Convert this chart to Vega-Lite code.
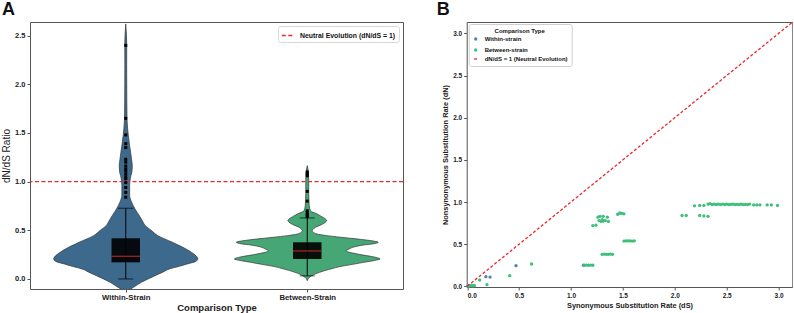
{
  "$schema": "https://vega.github.io/schema/vega-lite/v6.json",
  "padding": {"left": 1, "top": 0, "right": 0, "bottom": 0},
  "spacing": 30.7,
  "datasets": {
    "violin": [
      {"g": "Within-Strain", "y": 2.62, "lo": 0, "hi": 0},
      {"g": "Within-Strain", "y": 2.5, "lo": -0.004, "hi": 0.004},
      {"g": "Within-Strain", "y": 2.4, "lo": -0.0054, "hi": 0.0054},
      {"g": "Within-Strain", "y": 2.2, "lo": -0.005, "hi": 0.005},
      {"g": "Within-Strain", "y": 2.0, "lo": -0.0054, "hi": 0.0054},
      {"g": "Within-Strain", "y": 1.8, "lo": -0.006, "hi": 0.006},
      {"g": "Within-Strain", "y": 1.64, "lo": -0.007, "hi": 0.007},
      {"g": "Within-Strain", "y": 1.55, "lo": -0.01, "hi": 0.01},
      {"g": "Within-Strain", "y": 1.47, "lo": -0.0145, "hi": 0.0145},
      {"g": "Within-Strain", "y": 1.37, "lo": -0.0214, "hi": 0.0214},
      {"g": "Within-Strain", "y": 1.3, "lo": -0.027, "hi": 0.027},
      {"g": "Within-Strain", "y": 1.23, "lo": -0.032, "hi": 0.032},
      {"g": "Within-Strain", "y": 1.16, "lo": -0.036, "hi": 0.036},
      {"g": "Within-Strain", "y": 1.1, "lo": -0.034, "hi": 0.034},
      {"g": "Within-Strain", "y": 1.06, "lo": -0.028, "hi": 0.028},
      {"g": "Within-Strain", "y": 1.0, "lo": -0.023, "hi": 0.023},
      {"g": "Within-Strain", "y": 0.96, "lo": -0.0214, "hi": 0.0214},
      {"g": "Within-Strain", "y": 0.9, "lo": -0.0214, "hi": 0.0214},
      {"g": "Within-Strain", "y": 0.86, "lo": -0.0214, "hi": 0.0214},
      {"g": "Within-Strain", "y": 0.79, "lo": -0.032, "hi": 0.032},
      {"g": "Within-Strain", "y": 0.72, "lo": -0.051, "hi": 0.051},
      {"g": "Within-Strain", "y": 0.65, "lo": -0.075, "hi": 0.075},
      {"g": "Within-Strain", "y": 0.6, "lo": -0.091, "hi": 0.091},
      {"g": "Within-Strain", "y": 0.55, "lo": -0.107, "hi": 0.107},
      {"g": "Within-Strain", "y": 0.5, "lo": -0.14, "hi": 0.14},
      {"g": "Within-Strain", "y": 0.445, "lo": -0.177, "hi": 0.177},
      {"g": "Within-Strain", "y": 0.377, "lo": -0.257, "hi": 0.257},
      {"g": "Within-Strain", "y": 0.308, "lo": -0.332, "hi": 0.332},
      {"g": "Within-Strain", "y": 0.27, "lo": -0.365, "hi": 0.365},
      {"g": "Within-Strain", "y": 0.24, "lo": -0.386, "hi": 0.386},
      {"g": "Within-Strain", "y": 0.205, "lo": -0.397, "hi": 0.397},
      {"g": "Within-Strain", "y": 0.18, "lo": -0.385, "hi": 0.385},
      {"g": "Within-Strain", "y": 0.154, "lo": -0.338, "hi": 0.338},
      {"g": "Within-Strain", "y": 0.13, "lo": -0.295, "hi": 0.295},
      {"g": "Within-Strain", "y": 0.103, "lo": -0.241, "hi": 0.241},
      {"g": "Within-Strain", "y": 0.07, "lo": -0.204, "hi": 0.204},
      {"g": "Within-Strain", "y": 0.034, "lo": -0.161, "hi": 0.161},
      {"g": "Within-Strain", "y": 0.0, "lo": -0.123, "hi": 0.123},
      {"g": "Within-Strain", "y": -0.034, "lo": -0.086, "hi": 0.086},
      {"g": "Within-Strain", "y": -0.085, "lo": -0.043, "hi": 0.043},
      {"g": "Within-Strain", "y": -0.13, "lo": 0, "hi": 0},
      {"g": "Between-Strain", "y": 1.164, "lo": 1, "hi": 1},
      {"g": "Between-Strain", "y": 1.1, "lo": 0.994, "hi": 1.006},
      {"g": "Between-Strain", "y": 1.027, "lo": 0.992, "hi": 1.008},
      {"g": "Between-Strain", "y": 0.95, "lo": 0.992, "hi": 1.008},
      {"g": "Between-Strain", "y": 0.89, "lo": 0.992, "hi": 1.008},
      {"g": "Between-Strain", "y": 0.82, "lo": 0.991, "hi": 1.009},
      {"g": "Between-Strain", "y": 0.753, "lo": 0.989, "hi": 1.011},
      {"g": "Between-Strain", "y": 0.7, "lo": 0.982, "hi": 1.018},
      {"g": "Between-Strain", "y": 0.668, "lo": 0.946, "hi": 1.054},
      {"g": "Between-Strain", "y": 0.64, "lo": 0.92, "hi": 1.08},
      {"g": "Between-Strain", "y": 0.617, "lo": 0.9, "hi": 1.1},
      {"g": "Between-Strain", "y": 0.6, "lo": 0.893, "hi": 1.107},
      {"g": "Between-Strain", "y": 0.583, "lo": 0.9, "hi": 1.1},
      {"g": "Between-Strain", "y": 0.555, "lo": 0.925, "hi": 1.075},
      {"g": "Between-Strain", "y": 0.531, "lo": 0.955, "hi": 1.045},
      {"g": "Between-Strain", "y": 0.51, "lo": 0.968, "hi": 1.032},
      {"g": "Between-Strain", "y": 0.496, "lo": 0.973, "hi": 1.027},
      {"g": "Between-Strain", "y": 0.478, "lo": 0.965, "hi": 1.035},
      {"g": "Between-Strain", "y": 0.462, "lo": 0.946, "hi": 1.054},
      {"g": "Between-Strain", "y": 0.445, "lo": 0.89, "hi": 1.11},
      {"g": "Between-Strain", "y": 0.428, "lo": 0.812, "hi": 1.188},
      {"g": "Between-Strain", "y": 0.41, "lo": 0.72, "hi": 1.28},
      {"g": "Between-Strain", "y": 0.394, "lo": 0.651, "hi": 1.349},
      {"g": "Between-Strain", "y": 0.377, "lo": 0.609, "hi": 1.391},
      {"g": "Between-Strain", "y": 0.36, "lo": 0.64, "hi": 1.36},
      {"g": "Between-Strain", "y": 0.349, "lo": 0.689, "hi": 1.311},
      {"g": "Between-Strain", "y": 0.33, "lo": 0.74, "hi": 1.26},
      {"g": "Between-Strain", "y": 0.308, "lo": 0.769, "hi": 1.231},
      {"g": "Between-Strain", "y": 0.29, "lo": 0.786, "hi": 1.214},
      {"g": "Between-Strain", "y": 0.275, "lo": 0.77, "hi": 1.23},
      {"g": "Between-Strain", "y": 0.264, "lo": 0.743, "hi": 1.257},
      {"g": "Between-Strain", "y": 0.248, "lo": 0.7, "hi": 1.3},
      {"g": "Between-Strain", "y": 0.233, "lo": 0.651, "hi": 1.349},
      {"g": "Between-Strain", "y": 0.218, "lo": 0.615, "hi": 1.385},
      {"g": "Between-Strain", "y": 0.205, "lo": 0.598, "hi": 1.402},
      {"g": "Between-Strain", "y": 0.19, "lo": 0.63, "hi": 1.37},
      {"g": "Between-Strain", "y": 0.171, "lo": 0.689, "hi": 1.311},
      {"g": "Between-Strain", "y": 0.15, "lo": 0.75, "hi": 1.25},
      {"g": "Between-Strain", "y": 0.13, "lo": 0.812, "hi": 1.188},
      {"g": "Between-Strain", "y": 0.108, "lo": 0.86, "hi": 1.14},
      {"g": "Between-Strain", "y": 0.086, "lo": 0.903, "hi": 1.097},
      {"g": "Between-Strain", "y": 0.068, "lo": 0.932, "hi": 1.068},
      {"g": "Between-Strain", "y": 0.051, "lo": 0.957, "hi": 1.043},
      {"g": "Between-Strain", "y": 0.034, "lo": 0.975, "hi": 1.025},
      {"g": "Between-Strain", "y": 0.017, "lo": 0.988, "hi": 1.012},
      {"g": "Between-Strain", "y": -0.017, "lo": 1, "hi": 1}
    ],
    "boxes": [
      {"g": "Within-Strain", "pos": 0, "q1": 0.171, "q3": 0.418, "med": 0.233, "wlo": 0.0, "whi": 0.727},
      {"g": "Between-Strain", "pos": 1, "q1": 0.205, "q3": 0.377, "med": 0.288, "wlo": 0.032, "whi": 0.627}
    ],
    "outliers": [
      {"g": "Within-Strain", "pos": 0, "v": 2.4},
      {"g": "Within-Strain", "pos": 0, "v": 1.65},
      {"g": "Within-Strain", "pos": 0, "v": 1.48},
      {"g": "Within-Strain", "pos": 0, "v": 1.39},
      {"g": "Within-Strain", "pos": 0, "v": 1.35},
      {"g": "Within-Strain", "pos": 0, "v": 1.23},
      {"g": "Within-Strain", "pos": 0, "v": 1.2},
      {"g": "Within-Strain", "pos": 0, "v": 1.16},
      {"g": "Within-Strain", "pos": 0, "v": 1.13},
      {"g": "Within-Strain", "pos": 0, "v": 1.11},
      {"g": "Within-Strain", "pos": 0, "v": 1.08},
      {"g": "Within-Strain", "pos": 0, "v": 1.05},
      {"g": "Within-Strain", "pos": 0, "v": 1.03},
      {"g": "Within-Strain", "pos": 0, "v": 0.99},
      {"g": "Within-Strain", "pos": 0, "v": 0.94},
      {"g": "Within-Strain", "pos": 0, "v": 0.89},
      {"g": "Within-Strain", "pos": 0, "v": 0.84},
      {"g": "Between-Strain", "pos": 1, "v": 1.1},
      {"g": "Between-Strain", "pos": 1, "v": 1.08},
      {"g": "Between-Strain", "pos": 1, "v": 1.06},
      {"g": "Between-Strain", "pos": 1, "v": 0.9},
      {"g": "Between-Strain", "pos": 1, "v": 0.8},
      {"g": "Between-Strain", "pos": 1, "v": 0.7},
      {"g": "Between-Strain", "pos": 1, "v": 0.68},
      {"g": "Between-Strain", "pos": 1, "v": 0.66},
      {"g": "Between-Strain", "pos": 1, "v": 0.65},
      {"g": "Between-Strain", "pos": 1, "v": 0.64}
    ],
    "scatter": [
      {"t": "Within-strain", "ds": 0.005, "dn": 0.003},
      {"t": "Within-strain", "ds": 0.012, "dn": 0.005},
      {"t": "Within-strain", "ds": 0.02, "dn": 0.01},
      {"t": "Within-strain", "ds": 0.18, "dn": 0.114},
      {"t": "Within-strain", "ds": 0.22, "dn": 0.11},
      {"t": "Within-strain", "ds": 0.47, "dn": 0.245},
      {"t": "Within-strain", "ds": 1.12, "dn": 0.25},
      {"t": "Between-strain", "ds": 0.02, "dn": 0.005},
      {"t": "Between-strain", "ds": 0.04, "dn": 0.008},
      {"t": "Between-strain", "ds": 0.05, "dn": 0.006},
      {"t": "Between-strain", "ds": 0.06, "dn": 0.01},
      {"t": "Between-strain", "ds": 0.07, "dn": 0.008},
      {"t": "Between-strain", "ds": 0.12, "dn": 0.075},
      {"t": "Between-strain", "ds": 0.19, "dn": 0.02},
      {"t": "Between-strain", "ds": 0.41, "dn": 0.126},
      {"t": "Between-strain", "ds": 0.62, "dn": 0.265},
      {"t": "Between-strain", "ds": 1.13, "dn": 0.25},
      {"t": "Between-strain", "ds": 1.15, "dn": 0.252},
      {"t": "Between-strain", "ds": 1.17, "dn": 0.25},
      {"t": "Between-strain", "ds": 1.19, "dn": 0.252},
      {"t": "Between-strain", "ds": 1.21, "dn": 0.25},
      {"t": "Between-strain", "ds": 1.3, "dn": 0.38},
      {"t": "Between-strain", "ds": 1.32, "dn": 0.382},
      {"t": "Between-strain", "ds": 1.34, "dn": 0.38},
      {"t": "Between-strain", "ds": 1.36, "dn": 0.38},
      {"t": "Between-strain", "ds": 1.38, "dn": 0.382},
      {"t": "Between-strain", "ds": 1.4, "dn": 0.38},
      {"t": "Between-strain", "ds": 1.51, "dn": 0.537},
      {"t": "Between-strain", "ds": 1.53, "dn": 0.54},
      {"t": "Between-strain", "ds": 1.55, "dn": 0.538},
      {"t": "Between-strain", "ds": 1.57, "dn": 0.54},
      {"t": "Between-strain", "ds": 1.59, "dn": 0.537},
      {"t": "Between-strain", "ds": 1.61, "dn": 0.54},
      {"t": "Between-strain", "ds": 1.21, "dn": 0.72},
      {"t": "Between-strain", "ds": 1.24, "dn": 0.725},
      {"t": "Between-strain", "ds": 1.26, "dn": 0.82},
      {"t": "Between-strain", "ds": 1.28, "dn": 0.83},
      {"t": "Between-strain", "ds": 1.31, "dn": 0.83},
      {"t": "Between-strain", "ds": 1.35, "dn": 0.82},
      {"t": "Between-strain", "ds": 1.27, "dn": 0.78},
      {"t": "Between-strain", "ds": 1.29, "dn": 0.77},
      {"t": "Between-strain", "ds": 1.31, "dn": 0.775},
      {"t": "Between-strain", "ds": 1.33, "dn": 0.78},
      {"t": "Between-strain", "ds": 1.36, "dn": 0.77},
      {"t": "Between-strain", "ds": 1.3, "dn": 0.79},
      {"t": "Between-strain", "ds": 1.45, "dn": 0.855},
      {"t": "Between-strain", "ds": 1.47, "dn": 0.87},
      {"t": "Between-strain", "ds": 1.49, "dn": 0.865},
      {"t": "Between-strain", "ds": 1.51, "dn": 0.86},
      {"t": "Between-strain", "ds": 2.07, "dn": 0.84},
      {"t": "Between-strain", "ds": 2.11, "dn": 0.84},
      {"t": "Between-strain", "ds": 2.24, "dn": 0.84},
      {"t": "Between-strain", "ds": 2.28, "dn": 0.835},
      {"t": "Between-strain", "ds": 2.32, "dn": 0.83},
      {"t": "Between-strain", "ds": 2.19, "dn": 0.955},
      {"t": "Between-strain", "ds": 2.24, "dn": 0.96},
      {"t": "Between-strain", "ds": 2.28, "dn": 0.96},
      {"t": "Between-strain", "ds": 2.32, "dn": 0.975},
      {"t": "Between-strain", "ds": 2.34, "dn": 0.98},
      {"t": "Between-strain", "ds": 2.36, "dn": 0.97},
      {"t": "Between-strain", "ds": 2.38, "dn": 0.975},
      {"t": "Between-strain", "ds": 2.4, "dn": 0.97},
      {"t": "Between-strain", "ds": 2.42, "dn": 0.975},
      {"t": "Between-strain", "ds": 2.44, "dn": 0.97},
      {"t": "Between-strain", "ds": 2.46, "dn": 0.975},
      {"t": "Between-strain", "ds": 2.48, "dn": 0.97},
      {"t": "Between-strain", "ds": 2.5, "dn": 0.975},
      {"t": "Between-strain", "ds": 2.52, "dn": 0.97},
      {"t": "Between-strain", "ds": 2.54, "dn": 0.972},
      {"t": "Between-strain", "ds": 2.56, "dn": 0.975},
      {"t": "Between-strain", "ds": 2.58, "dn": 0.97},
      {"t": "Between-strain", "ds": 2.6, "dn": 0.972},
      {"t": "Between-strain", "ds": 2.62, "dn": 0.97},
      {"t": "Between-strain", "ds": 2.64, "dn": 0.975},
      {"t": "Between-strain", "ds": 2.66, "dn": 0.97},
      {"t": "Between-strain", "ds": 2.68, "dn": 0.972},
      {"t": "Between-strain", "ds": 2.7, "dn": 0.97},
      {"t": "Between-strain", "ds": 2.72, "dn": 0.975},
      {"t": "Between-strain", "ds": 2.76, "dn": 0.965},
      {"t": "Between-strain", "ds": 2.79, "dn": 0.965},
      {"t": "Between-strain", "ds": 2.82, "dn": 0.965},
      {"t": "Between-strain", "ds": 2.89, "dn": 0.965},
      {"t": "Between-strain", "ds": 2.93, "dn": 0.965},
      {"t": "Between-strain", "ds": 2.99, "dn": 0.96}
    ]
  },
  "hconcat": [
    {
      "width": 373,
      "height": 267,
      "title": {"text": "A", "anchor": "start", "frame": "group", "dx": -28, "offset": -11, "baseline": "alphabetic", "fontSize": 18, "fontWeight": "bold", "font": "Liberation Sans", "color": "#111"},
      "layer": [
        {
          "data": {"name": "violin"},
          "mark": {"type": "area", "orient": "horizontal", "interpolate": "monotone", "stroke": "#333", "strokeWidth": 0.7, "clip": true, "opacity": 1},
          "encoding": {
            "y": {"field": "y", "type": "quantitative", "scale": {"domain": [-0.103, 2.64], "nice": false, "zero": false},
                  "axis": {"values": [0, 0.5, 1, 1.5, 2, 2.5], "format": ".1f", "title": "dN/dS Ratio", "titleFontSize": 10, "titleFontWeight": "normal", "titlePadding": 3, "labelFontSize": 7.5}},
            "x": {"field": "lo", "type": "quantitative", "scale": {"domain": [-0.5, 1.5], "nice": false, "zero": false},
                  "axis": {"values": [0, 1], "labelExpr": "datum.value == 0 ? 'Within-Strain' : 'Between-Strain'", "title": "Comparison Type", "titleFontSize": 9.5, "titlePadding": 1, "labelFontSize": 7.8, "labelPadding": 1.5}},
            "x2": {"field": "hi"},
            "color": {"field": "g", "type": "nominal", "scale": {"domain": ["Within-Strain", "Between-Strain"], "range": ["#3d6a8c", "#47a675"]}, "legend": null}
          }
        },
        {
          "data": {"values": [{"name": "Neutral Evolution (dN/dS = 1)", "v": 1}]},
          "mark": {"type": "rule", "strokeDash": [4, 2.5], "strokeWidth": 1.2, "color": "#e8292b"},
          "encoding": {
            "y": {"field": "v", "type": "quantitative"},
            "strokeDash": {"field": "name", "type": "nominal", "scale": {"range": [[4, 2.5]]},
                       "legend": {"title": null, "orient": "top-right", "offset": 4, "fillColor": "white", "strokeColor": "#d8d8d8", "cornerRadius": 2, "padding": 3,
                                  "symbolType": "stroke", "symbolStrokeColor": "#e8292b", "symbolStrokeWidth": 1.3, "symbolSize": 130,
                                  "labelFontSize": 6.9, "labelFontWeight": "bold", "labelFont": "Liberation Sans", "labelOffset": 6, "labelColor": "#111"}}
          }
        },
        {
          "data": {"name": "boxes"},
          "mark": {"type": "rule", "color": "black", "strokeWidth": 1},
          "encoding": {"x": {"field": "pos", "type": "quantitative"}, "y": {"field": "wlo", "type": "quantitative"}, "y2": {"field": "whi"}}
        },
        {
          "data": {"name": "boxes"},
          "mark": {"type": "bar", "orient": "vertical", "width": 28.5, "color": "black", "opacity": 0.9},
          "encoding": {"x": {"field": "pos", "type": "quantitative"}, "y": {"field": "q1", "type": "quantitative"}, "y2": {"field": "q3"}}
        },
        {
          "data": {"name": "boxes"},
          "mark": {"type": "tick", "orient": "horizontal", "size": 15, "thickness": 1, "color": "black"},
          "encoding": {"x": {"field": "pos", "type": "quantitative"}, "y": {"field": "wlo", "type": "quantitative"}}
        },
        {
          "data": {"name": "boxes"},
          "mark": {"type": "tick", "orient": "horizontal", "size": 15, "thickness": 1, "color": "black"},
          "encoding": {"x": {"field": "pos", "type": "quantitative"}, "y": {"field": "whi", "type": "quantitative"}}
        },
        {
          "data": {"name": "boxes"},
          "mark": {"type": "tick", "orient": "horizontal", "size": 28.5, "thickness": 1.3, "color": "#e8292b"},
          "encoding": {"x": {"field": "pos", "type": "quantitative"}, "y": {"field": "med", "type": "quantitative"}}
        },
        {
          "data": {"name": "outliers"},
          "mark": {"type": "point", "filled": true, "shape": "square", "size": 9, "color": "black", "opacity": 1},
          "encoding": {"x": {"field": "pos", "type": "quantitative"}, "y": {"field": "v", "type": "quantitative"}}
        }
      ]
    },
    {
      "width": 325.6,
      "height": 265,
      "title": {"text": "B", "anchor": "start", "frame": "group", "dx": -30, "offset": -11, "baseline": "alphabetic", "fontSize": 18, "fontWeight": "bold", "font": "Liberation Sans", "color": "#111"},
      "layer": [
        {
          "data": {"name": "scatter"},
          "mark": {"type": "point", "filled": true, "opacity": 1},
          "encoding": {
            "x": {"field": "ds", "type": "quantitative", "scale": {"domain": [-0.005, 3.132], "nice": false, "zero": false},
                  "axis": {"values": [0, 0.5, 1, 1.5, 2, 2.5, 3], "format": ".1f", "title": "Synonymous Substitution Rate (dS)", "titleFontSize": 7.4, "titlePadding": 3, "labelFontSize": 6.5, "labelPadding": 2}},
            "y": {"field": "dn", "type": "quantitative", "scale": {"domain": [-0.008, 3.135], "nice": false, "zero": false},
                  "axis": {"values": [0, 0.5, 1, 1.5, 2, 2.5, 3], "format": ".1f", "title": "Nonsynonymous Substitution Rate (dN)", "titleFontSize": 7.4, "titlePadding": 3, "labelFontSize": 6.5, "labelPadding": 2}},
            "color": {"field": "t", "type": "nominal",
                      "scale": {"domain": ["Within-strain", "Between-strain", "dN/dS = 1 (Neutral Evolution)"], "range": ["#5a7fa8", "#3cc07a", "#e8292b"]},
                      "legend": {"title": "Comparison Type", "orient": "top-left", "offset": 2, "fillColor": "white", "strokeColor": "#d0d0d0", "cornerRadius": 2, "padding": 4,
                                 "titleFontSize": 6, "titleFontWeight": "bold", "titleAnchor": "middle", "titleFont": "Liberation Sans", "titleColor": "#111", "titlePadding": 2,
                                 "labelFontSize": 6, "labelFontWeight": "bold", "labelFont": "Liberation Sans", "labelColor": "#111", "labelOffset": 6, "rowPadding": 1,
                                 "symbolStrokeColor": "#e8292b", "symbolStrokeWidth": 1.3}},
            "shape": {"field": "t", "type": "nominal",
                      "scale": {"domain": ["Within-strain", "Between-strain", "dN/dS = 1 (Neutral Evolution)"], "range": ["circle", "circle", "stroke"]},
                      "legend": {"title": "Comparison Type", "orient": "top-left"}},
            "size": {"field": "t", "type": "nominal",
                      "scale": {"domain": ["Within-strain", "Between-strain", "dN/dS = 1 (Neutral Evolution)"], "range": [11, 11, 110]},
                      "legend": {"title": "Comparison Type", "orient": "top-left"}},
            "strokeDash": {"field": "t", "type": "nominal",
                      "scale": {"domain": ["Within-strain", "Between-strain", "dN/dS = 1 (Neutral Evolution)"], "range": [[0, 100], [0, 100], [3, 2]]},
                      "legend": {"title": "Comparison Type", "orient": "top-left"}}
          }
        },
        {
          "data": {"values": [{"x": 0, "y": 0, "x2": 3.2, "y2": 3.2}]},
          "mark": {"type": "rule", "strokeWidth": 1.3, "clip": true, "color": "#e8292b", "strokeDash": [3, 2]},
          "encoding": {
            "x": {"field": "x", "type": "quantitative"},
            "y": {"field": "y", "type": "quantitative"},
            "x2": {"field": "x2"},
            "y2": {"field": "y2"}
          }
        }
      ]
    }
  ],
  "resolve": {
    "scale": {"x": "independent", "y": "independent", "color": "independent", "strokeDash": "independent", "shape": "independent", "size": "independent"},
    "legend": {"color": "independent", "strokeDash": "independent", "shape": "independent", "size": "independent"}
  },
  "config": {
    "font": "Liberation Sans",
    "view": {"stroke": "#555", "strokeWidth": 1},
    "axis": {"grid": false, "domain": false, "tickColor": "#555", "tickSize": 3, "labelFont": "Liberation Sans", "labelFontWeight": "bold", "labelColor": "#222", "titleFont": "Liberation Sans", "titleFontWeight": "bold", "titleColor": "#222"}
  }
}
